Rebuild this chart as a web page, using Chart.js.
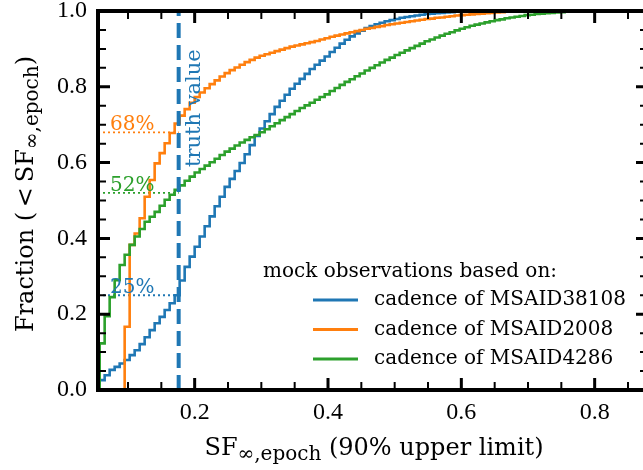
<!DOCTYPE html>
<html>
<head>
<meta charset="utf-8">
<script src="https://cdn.jsdelivr.net/npm/chart.js@4.4.1/dist/chart.umd.min.js"></script>
<style>
  html, body { margin: 0; padding: 0; background: #fff; overflow: hidden; }
  #wrap { position: relative; width: 660px; height: 470px; }
</style>
</head>
<body>
<div id="wrap"><canvas id="cdfChart"></canvas></div>
<script>
// bin edges of the cumulative histograms
const xs = [
  0.0575, 0.065, 0.0725, 0.08, 0.0875, 0.095, 0.1025, 0.11, 0.1175, 0.125,
  0.1325, 0.14, 0.1475, 0.155, 0.1625, 0.17, 0.1775, 0.185, 0.1925, 0.2,
  0.2075, 0.215, 0.2225, 0.23, 0.2375, 0.245, 0.2525, 0.26, 0.2675, 0.275,
  0.2825, 0.29, 0.2975, 0.305, 0.3125, 0.32, 0.3275, 0.335, 0.3425, 0.35,
  0.3575, 0.365, 0.3725, 0.38, 0.3875, 0.395, 0.4025, 0.41, 0.4175, 0.425,
  0.4325, 0.44, 0.4475, 0.455, 0.4625, 0.47, 0.4775, 0.485, 0.4925, 0.5,
  0.5075, 0.515, 0.5225, 0.53, 0.5375, 0.545, 0.5525, 0.56, 0.5675, 0.575,
  0.5825, 0.59, 0.5975, 0.605, 0.6125, 0.62, 0.6275, 0.635, 0.6425, 0.65,
  0.6575, 0.665, 0.6725, 0.68, 0.6875, 0.695, 0.7025, 0.71, 0.7175, 0.725,
  0.7325, 0.74, 0.7475, 0.755, 0.7625, 0.77,
  0.875
];

// cadence of MSAID38108
const fracMSAID38108 = [
  0.013, 0.026, 0.039, 0.053, 0.061, 0.070, 0.079, 0.092, 0.105, 0.121,
  0.139, 0.158, 0.176, 0.193, 0.211, 0.229, 0.250, 0.289, 0.325, 0.352,
  0.378, 0.405, 0.432, 0.458, 0.485, 0.510, 0.536, 0.557, 0.578, 0.599,
  0.622, 0.646, 0.670, 0.690, 0.709, 0.728, 0.747, 0.763, 0.779, 0.795,
  0.808, 0.821, 0.834, 0.847, 0.858, 0.869, 0.880, 0.892, 0.903, 0.914,
  0.924, 0.933, 0.941, 0.948, 0.955, 0.960, 0.965, 0.969, 0.973, 0.976,
  0.979, 0.982, 0.984, 0.986, 0.988, 0.990, 0.992, 0.993, 0.994, 0.995,
  0.996, 0.997, 0.998, 0.998, 0.999, 0.999, 1, 1, 1, 1,
  1, 1, 1, 1, 1, 1, 1, 1, 1, 1,
  1, 1, 1, 1, 1, 1,
  1
];

// cadence of MSAID2008
const fracMSAID2008 = [
  0, 0, 0, 0, 0, 0, 0.167, 0.383, 0.413, 0.453,
  0.510, 0.554, 0.598, 0.625, 0.651, 0.678, 0.703, 0.724, 0.741, 0.758,
  0.773, 0.785, 0.796, 0.807, 0.817, 0.827, 0.836, 0.844, 0.851, 0.858,
  0.865, 0.871, 0.877, 0.882, 0.886, 0.890, 0.894, 0.898, 0.902, 0.906,
  0.909, 0.912, 0.915, 0.918, 0.921, 0.925, 0.928, 0.932, 0.935, 0.938,
  0.941, 0.944, 0.947, 0.950, 0.953, 0.955, 0.958, 0.960, 0.963, 0.965,
  0.967, 0.969, 0.971, 0.973, 0.975, 0.977, 0.979, 0.980, 0.982, 0.983,
  0.985, 0.986, 0.988, 0.989, 0.990, 0.991, 0.992, 0.993, 0.994, 0.995,
  0.996, 0.997, 0.998, 0.999, 0.999, 1, 1, 1, 1, 1,
  1, 1, 1, 1, 1, 1,
  1
];

// cadence of MSAID4286
const fracMSAID4286 = [
  0, 0.123, 0.195, 0.245, 0.290, 0.330, 0.357, 0.383, 0.405, 0.425,
  0.444, 0.457, 0.470, 0.486, 0.502, 0.515, 0.528, 0.540, 0.552, 0.563,
  0.574, 0.583, 0.592, 0.601, 0.610, 0.620, 0.629, 0.637, 0.645, 0.653,
  0.660, 0.667, 0.673, 0.680, 0.688, 0.696, 0.704, 0.712, 0.720, 0.728,
  0.736, 0.744, 0.751, 0.758, 0.766, 0.773, 0.780, 0.789, 0.797, 0.805,
  0.813, 0.820, 0.828, 0.835, 0.843, 0.850, 0.857, 0.864, 0.871, 0.877,
  0.884, 0.890, 0.896, 0.902, 0.908, 0.914, 0.920, 0.925, 0.930, 0.935,
  0.940, 0.944, 0.949, 0.953, 0.957, 0.961, 0.964, 0.967, 0.970, 0.973,
  0.976, 0.978, 0.981, 0.983, 0.985, 0.987, 0.989, 0.990, 0.992, 0.993,
  0.994, 0.995, 0.996, 0.997, 0.998, 0.999,
  1
];

const seriesLabels = ['cadence of MSAID38108', 'cadence of MSAID2008', 'cadence of MSAID4286'];
const seriesColors = ['#1f77b4', '#ff7f0e', '#2ca02c'];

// truth value and the fractions below it
const truthValue = 0.176;
const truthFractions = [0.25, 0.68, 0.52];
const truthLabels = ['25%', '68%', '52%'];

// axes
const X_MIN = 0.055, X_MAX = 0.88;
const xMajor = [0.2, 0.4, 0.6, 0.8];
const xMinor = [0.1, 0.15, 0.25, 0.3, 0.35, 0.45, 0.5, 0.55, 0.65, 0.7, 0.75, 0.85];
const yMajor = [0, 0.2, 0.4, 0.6, 0.8, 1.0];
const yMinor = [0.05, 0.1, 0.15, 0.25, 0.3, 0.35, 0.45, 0.5, 0.55, 0.65, 0.7, 0.75, 0.85, 0.9, 0.95];

const SERIF = "'DejaVu Serif', 'Liberation Serif', serif";
const TICK_SERIF = "'Liberation Serif', 'DejaVu Serif', serif";

function toPoints(ys) {
    return ys.map((y, i) => ({ x: xs[i], y: y }));
}

const cdfData = [fracMSAID38108, fracMSAID2008, fracMSAID4286];

const datasets = [];
cdfData.forEach((ys, i) => {
    datasets.push({
        label: seriesLabels[i],
        data: toPoints(ys),
        borderColor: seriesColors[i],
        borderWidth: 2.6,
        stepped: 'after',
        pointRadius: 0,
        fill: false,
        order: 3 - i
    });
});

// dotted guides from the left edge to the truth value
truthFractions.forEach((f, i) => {
    datasets.push({
        label: 'guide ' + truthLabels[i],
        data: [{ x: X_MIN, y: f }, { x: truthValue, y: f }],
        borderColor: seriesColors[i],
        borderWidth: 1.8,
        borderDash: [2, 3],
        pointRadius: 0,
        fill: false,
        order: 5
    });
});

// dashed truth value line
datasets.push({
    label: 'truth value',
    data: [{ x: truthValue, y: 0 }, { x: truthValue, y: 1 }],
    borderColor: '#1f77b4',
    borderWidth: 4,
    borderDash: [15, 7],
    pointRadius: 0,
    fill: false,
    order: 0
});

// draw pieces of text with subscripts, centered on cx
function drawPieces(ctx, pieces, cx, baseline) {
    let total = 0;
    pieces.forEach(p => {
        ctx.font = p.size + 'px ' + SERIF;
        p.w = ctx.measureText(p.text).width;
        total += p.w;
    });
    let x = cx - total / 2;
    ctx.textAlign = 'left';
    ctx.textBaseline = 'alphabetic';
    pieces.forEach(p => {
        ctx.font = p.size + 'px ' + SERIF;
        ctx.fillText(p.text, x, baseline + (p.dy || 0));
        x += p.w;
    });
}

const framePlugin = {
    id: 'frame',
    afterDatasetsDraw(chart) {
        const ctx = chart.ctx;
        const a = chart.chartArea;
        const sx = chart.scales.x, sy = chart.scales.y;
        ctx.save();
        ctx.strokeStyle = '#000';
        ctx.lineCap = 'butt';

        function xTick(v, len, w) {
            const px = sx.getPixelForValue(v);
            ctx.lineWidth = w;
            ctx.beginPath();
            ctx.moveTo(px, a.bottom); ctx.lineTo(px, a.bottom - len);
            ctx.moveTo(px, a.top); ctx.lineTo(px, a.top + len);
            ctx.stroke();
        }
        function yTick(v, len, w) {
            const py = sy.getPixelForValue(v);
            ctx.lineWidth = w;
            ctx.beginPath();
            ctx.moveTo(a.left, py); ctx.lineTo(a.left + len, py);
            ctx.moveTo(a.right, py); ctx.lineTo(a.right - len, py);
            ctx.stroke();
        }
        xMajor.forEach(v => xTick(v, 12, 3));
        xMinor.forEach(v => xTick(v, 8, 2));
        yMajor.forEach(v => yTick(v, 12, 3));
        yMinor.forEach(v => yTick(v, 8, 2));

        ctx.lineWidth = 4;
        ctx.strokeRect(a.left, a.top, a.right - a.left, a.bottom - a.top);
        ctx.restore();
    },
    afterDraw(chart) {
        const ctx = chart.ctx;
        const sx = chart.scales.x, sy = chart.scales.y;
        ctx.save();

        // percentages above the dotted guides
        ctx.font = '20px ' + SERIF;
        ctx.textAlign = 'left';
        ctx.textBaseline = 'alphabetic';
        truthFractions.forEach((f, i) => {
            ctx.fillStyle = seriesColors[i];
            ctx.fillText(truthLabels[i], 110, sy.getPixelForValue(f) - 2);
        });

        // "truth value" along the dashed line
        ctx.save();
        ctx.fillStyle = '#1f77b4';
        ctx.font = '21px ' + SERIF;
        ctx.translate(sx.getPixelForValue(truthValue) + 21, 167);
        ctx.rotate(-Math.PI / 2);
        ctx.fillText('truth value', 0, 0);
        ctx.restore();

        // legend
        ctx.fillStyle = '#000';
        ctx.font = '20px ' + SERIF;
        ctx.textBaseline = 'middle';
        ctx.fillText('mock observations based on:', 263, 272);
        seriesLabels.forEach((lab, i) => {
            const y = 300 + i * 29.5;
            ctx.strokeStyle = seriesColors[i];
            ctx.lineWidth = 3;
            ctx.beginPath();
            ctx.moveTo(313, y); ctx.lineTo(358, y);
            ctx.stroke();
            ctx.fillStyle = '#000';
            ctx.fillText(lab, 374, y);
        });

        // axis titles
        ctx.fillStyle = '#000';
        drawPieces(ctx, [
            { text: 'SF', size: 24 },
            { text: '\u221E,epoch', size: 20, dy: 5 },
            { text: ' (90% upper limit)', size: 24 }
        ], 374, 455);

        ctx.save();
        ctx.translate(33, 194);
        ctx.rotate(-Math.PI / 2);
        drawPieces(ctx, [
            { text: 'Fraction (\u2009<\u2009SF', size: 24 },
            { text: '\u221E,epoch', size: 20, dy: 5 },
            { text: ')', size: 24 }
        ], 0, 0);
        ctx.restore();

        ctx.restore();
    }
};

const ctx = document.getElementById('cdfChart').getContext('2d');
const cdfChart = new Chart(ctx, {
    type: 'line',
    data: { datasets: datasets },
    options: {
        responsive: true,
        maintainAspectRatio: false,
        animation: false,
        layout: { padding: { left: 0, right: 12, top: 11, bottom: 0 } },
        plugins: {
            legend: { display: false },
            tooltip: { enabled: false }
        },
        scales: {
            x: {
                type: 'linear',
                min: X_MIN,
                max: X_MAX,
                grid: { display: false, drawTicks: false },
                border: { display: false },
                afterBuildTicks: function(scale) {
                    scale.ticks = xMajor.map(v => ({ value: v }));
                },
                afterFit: function(scale) {
                    scale.height = 80;
                    scale.paddingLeft = 0;
                    scale.paddingRight = 0;
                },
                ticks: {
                    color: '#000',
                    padding: 8,
                    maxRotation: 0,
                    autoSkip: false,
                    font: { family: TICK_SERIF, size: 24 },
                    callback: v => v.toFixed(1)
                }
            },
            y: {
                type: 'linear',
                min: 0,
                max: 1,
                grid: { display: false, drawTicks: false },
                border: { display: false },
                afterBuildTicks: function(scale) {
                    scale.ticks = yMajor.map(v => ({ value: v }));
                },
                afterFit: function(scale) {
                    scale.width = 98;
                    scale.paddingTop = 0;
                    scale.paddingBottom = 0;
                },
                ticks: {
                    color: '#000',
                    padding: 11,
                    autoSkip: false,
                    font: { family: TICK_SERIF, size: 24 },
                    callback: v => v.toFixed(1)
                }
            }
        }
    },
    plugins: [framePlugin]
});
</script>
</body>
</html>
